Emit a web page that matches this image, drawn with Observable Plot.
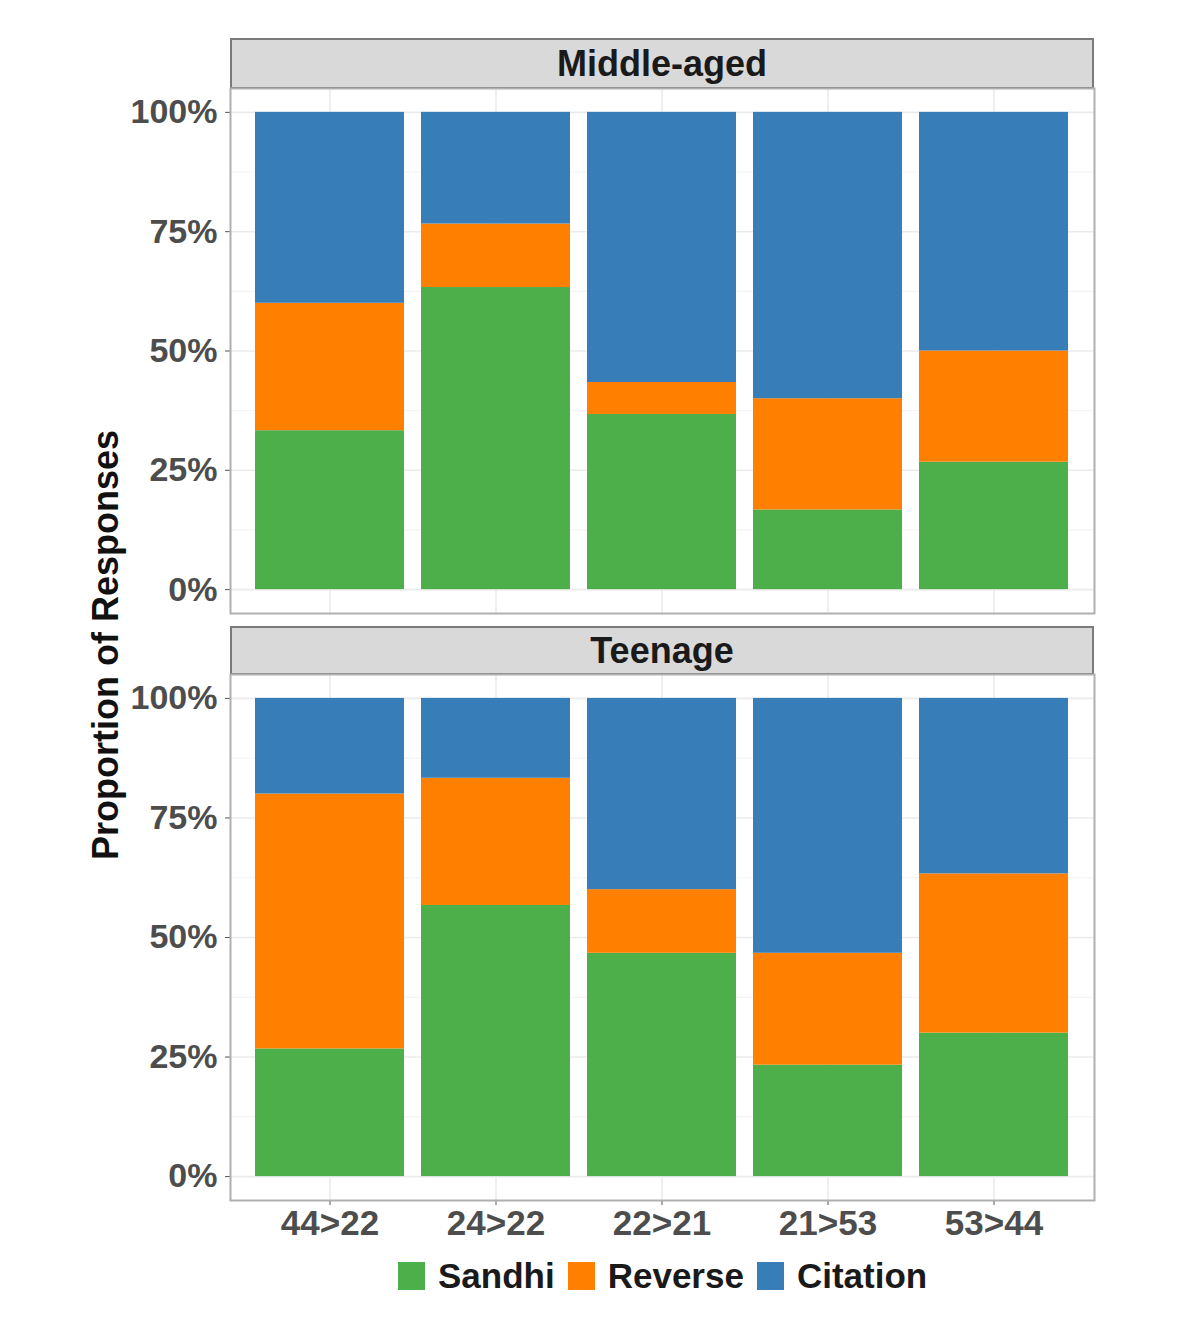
<!DOCTYPE html>
<html>
<head>
<meta charset="utf-8">
<script src="https://cdn.jsdelivr.net/npm/d3@7"></script>
<script src="https://cdn.jsdelivr.net/npm/@observablehq/plot@0.6"></script>
<style>
  html, body { margin: 0; padding: 0; background: #fff; }
  #root { position: relative; width: 1200px; height: 1340px; background: #fff;
          font-family: "Liberation Sans", Arial, sans-serif; }
  .panel { position: absolute; left: 0; }
  .strip { position: absolute; left: 230px; width: 860px; background: #d9d9d9;
           border: 2px solid #7a7a7a; display: flex; align-items: center; justify-content: center;
           font-weight: bold; font-size: 36px; color: #1a1a1a; }
  .ylab { position: absolute; left: 106px; top: 645px; transform: translate(-50%, -50%) rotate(-90deg);
          white-space: nowrap; font-weight: bold; font-size: 36px; color: #111; }
  .legend { position: absolute; top: 1256px; left: 398px; display: flex; align-items: center;
            font-weight: bold; font-size: 35px; color: #1a1a1a; }
  .legend .item { display: flex; align-items: center; margin-right: 13px; }
  .legend .sw { width: 27px; height: 28px; margin-right: 13px; }
</style>
</head>
<body>
<div id="root"></div>
<script>
// ---- data ----
const categories = ["44>22", "24>22", "22>21", "21>53", "53>44"];
const responses = ["Sandhi", "Reverse", "Citation"];
const colors = ["#4DAF4A", "#FF7F00", "#377EB8"];
const groups = ["Middle-aged", "Teenage"];

const middleSandhi   = [33.3, 63.3, 36.7, 16.7, 26.7];
const middleReverse  = [26.7, 13.3,  6.7, 23.3, 23.3];
const middleCitation = [40.0, 23.4, 56.6, 60.0, 50.0];

const teenSandhi   = [26.7, 56.7, 46.7, 23.3, 30.0];
const teenReverse  = [53.3, 26.6, 13.3, 23.4, 33.3];
const teenCitation = [20.0, 16.7, 40.0, 53.3, 36.7];

const majorTicks = [0, 25, 50, 75, 100];
const minorTicks = [12.5, 37.5, 62.5, 87.5];

function rowsFor(sandhi, reverse, citation) {
  const rows = [];
  const series = [sandhi, reverse, citation];
  categories.forEach((c, i) => {
    responses.forEach((r, j) => rows.push({cat: c, response: r, value: series[j][i]}));
  });
  return rows;
}

const font = `"Liberation Sans", Arial, sans-serif`;

function makePanel(rows, showX, panelHeight) {
  const marginBottom = showX ? 70 : 0;
  return Plot.plot({
    width: 1200,
    height: panelHeight + marginBottom,
    marginLeft: 230,
    marginRight: 106,
    marginTop: 0,
    marginBottom,
    style: {fontFamily: font, background: "transparent", overflow: "visible"},
    x: {domain: categories, paddingInner: 0.1, paddingOuter: 0.15, axis: null},
    y: {domain: [-5, 105], axis: null},
    color: {domain: responses, range: colors},
    marks: [
      Plot.ruleY(minorTicks, {stroke: "#f2f2f2", strokeWidth: 1}),
      Plot.ruleY(majorTicks, {stroke: "#ebebeb", strokeWidth: 1.6}),
      Plot.ruleX(categories, {stroke: "#ebebeb", strokeWidth: 1.6}),
      Plot.barY(rows, {x: "cat", y: "value", fill: "response", order: responses, inset: 0}),
      Plot.axisY({ticks: majorTicks, tickFormat: d => d + "%", tickSize: 5, tickPadding: 8, label: null,
                  stroke: "#555", fill: "#4d4d4d", fontSize: 34, fontWeight: "bold"}),
      showX ? Plot.axisX({tickSize: 5, tickPadding: 5, label: null, stroke: "#555", fill: "#4d4d4d",
                          fontSize: 35, fontWeight: "bold"}) : null,
      Plot.frame({stroke: "#b0b0b0", strokeWidth: 2})
    ]
  });
}

const root = document.getElementById("root");

function addPanel(rows, showX, top, height) {
  const svg = makePanel(rows, showX, height);
  svg.classList.add("panel");
  svg.style.position = "absolute";
  svg.style.top = top + "px";
  root.appendChild(svg);
}
function addStrip(label, top, height) {
  const d = document.createElement("div");
  d.className = "strip";
  d.style.top = top + "px";
  d.style.height = (height - 4) + "px";
  d.textContent = label;
  root.appendChild(d);
}

addStrip(groups[0], 38, 51);
addPanel(rowsFor(middleSandhi, middleReverse, middleCitation), false, 88, 525);
addStrip(groups[1], 626, 49);
addPanel(rowsFor(teenSandhi, teenReverse, teenCitation), true, 674, 526);

const yl = document.createElement("div");
yl.className = "ylab";
yl.textContent = "Proportion of Responses";
root.appendChild(yl);

const leg = document.createElement("div");
leg.className = "legend";
responses.forEach((r, i) => {
  const it = document.createElement("div");
  it.className = "item";
  const sw = document.createElement("div");
  sw.className = "sw";
  sw.style.background = colors[i];
  const t = document.createElement("span");
  t.textContent = r;
  it.appendChild(sw); it.appendChild(t);
  leg.appendChild(it);
});
root.appendChild(leg);
</script>
</body>
</html>
